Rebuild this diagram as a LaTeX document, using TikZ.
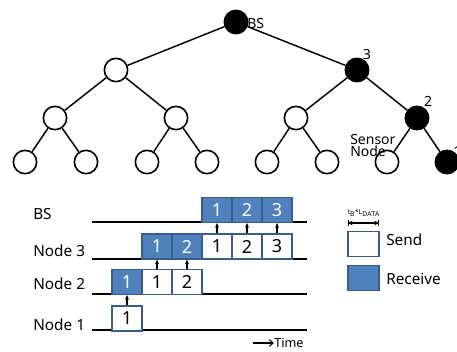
\documentclass[tikz,border=0pt]{standalone}
\usepackage{fontspec}
\setmainfont{Noto Sans}
\usetikzlibrary{arrows.meta}
\definecolor{boxblue}{HTML}{4F81BD}
\definecolor{boxedge}{HTML}{385D8A}
\tikzset{
  tn/.style={circle,draw=black,line width=1.2pt,minimum size=17.5pt,inner sep=0pt,fill=white},
  tf/.style={tn,fill=black},
  edge/.style={line width=1.1pt},
  tlabel/.style={font=\fontsize{10.5}{11}\selectfont,inner sep=0pt},
  rowlabel/.style={font=\fontsize{11.5}{12}\selectfont,inner sep=0pt,anchor=west},
  slot/.style={rectangle,draw=boxedge,line width=1.1pt,minimum width=22.5pt,minimum height=18.5pt,inner sep=0pt,font=\fontsize{13.5}{14}\selectfont},
  sendbox/.style={slot,fill=white,text=black},
  recvbox/.style={slot,fill=boxblue,text=white},
  tline/.style={line width=0.8pt},
  up/.style={line width=0.8pt,-{Stealth[length=3.5pt,width=3pt]}}
}
\begin{document}
\begin{tikzpicture}[x=0.75pt,y=-0.75pt]
\useasboundingbox (0,0) rectangle (457,351);
\clip (0,0) rectangle (457,351);
% tree
\node[tf] (bs) at (236,22) {};
\node[tn] (a) at (116,70) {};
\node[tf] (b) at (357,70) {};
\node[tn] (a1) at (55,118) {};
\node[tn] (a2) at (176,118) {};
\node[tn] (b1) at (296,118) {};
\node[tf] (b2) at (417,118) {};
\node[tn] (l1) at (25,162) {};
\node[tn] (l2) at (86,162) {};
\node[tn] (l3) at (147,162) {};
\node[tn] (l4) at (207,162) {};
\node[tn] (l5) at (267,162) {};
\node[tn] (l6) at (327,162) {};
\node[tn] (l7) at (387,162) {};
\node[tf] (l8) at (447,162) {};
\foreach \p/\c in {bs/a,bs/b,a/a1,a/a2,b/b1,b/b2,a1/l1,a1/l2,a2/l3,a2/l4,b1/l5,b1/l6,b2/l7,b2/l8}
  \draw[edge] (\p) -- (\c);
\node[tlabel,anchor=west] (bslab) at (247,23) {BS};
\node[tlabel] (lab3) at (367,54) {3};
\node[tlabel] (lab2) at (428,101) {2};
\node[tlabel,anchor=west] (lab1) at (453,151) {1};
\node[tlabel,anchor=west,align=left] (sensor) at (350,145) {Sensor\\[-2pt]Node};
% timing lines
\foreach \n/\y in {lbs/222,ln3/259,ln2/294,ln1/330}{
  \coordinate (\n s) at (92,\y);
  \coordinate (\n e) at (307,\y);
  \draw[tline] (\n s) -- (\n e);
}
\node[rowlabel] (rbs) at (33,214) {BS};
\node[rowlabel] (rn3) at (33,251) {Node 3};
\node[rowlabel] (rn2) at (33,284) {Node 2};
\node[rowlabel] (rn1) at (33,325) {Node 1};
% boxes
\node[recvbox] (bs1) at (217,210) {1};
\node[recvbox] (bs2) at (247,210) {2};
\node[recvbox] (bs3) at (277,210) {3};
\node[recvbox] (n3a) at (157,246.5) {1};
\node[recvbox] (n3b) at (187,246.5) {2};
\node[sendbox] (n3c) at (217,246.5) {1};
\node[sendbox] (n3d) at (247,246.5) {2};
\node[sendbox] (n3e) at (277,246.5) {3};
\node[recvbox] (n2a) at (127,282) {1};
\node[sendbox] (n2b) at (157,282) {1};
\node[sendbox] (n2c) at (187,282) {2};
\node[sendbox] (n1a) at (127,318.5) {1};
% arrows
\draw[up] (n1a.north) -- (n2a.south);
\draw[up] (n2b.north) -- (n3a.south);
\draw[up] (n2c.north) -- (n3b.south);
\draw[up] (n3c.north) -- (bs1.south);
\draw[up] (n3d.north) -- (bs2.south);
\draw[up] (n3e.north) -- (bs3.south);
% time arrow
\node[font=\fontsize{9.5}{10}\selectfont,inner sep=0pt,anchor=west] (time) at (274,343) {Time};
\coordinate (tstart) at (253,343);
\draw[line width=0.8pt,-{Straight Barb[length=3pt,width=5pt]}] (tstart) -- (time.west);
% legend
\node[font=\fontsize{5}{6}\selectfont\bfseries,inner sep=0pt] (dimlab) at (364,213) {t$_{\mathbf{B}}$*L$_{\mathbf{DATA}}$};
\coordinate (dl) at (348,223);
\coordinate (dr) at (379,223);
\draw[line width=0.8pt,{Bar[width=5pt]}-{Bar[width=5pt]}] (dl) -- (dr);
\draw[line width=0.8pt,{Stealth[length=3.5pt,width=3.5pt]}-{Stealth[length=3.5pt,width=3.5pt]}] (dl) -- (dr);
\node[sendbox,minimum width=23pt] (lsend) at (363.5,244) {};
\node[recvbox,minimum width=23pt] (lrecv) at (363.5,278) {};
\node[rowlabel] (sendt) at (386,240) {Send};
\node[rowlabel] (recvt) at (386,279) {Receive};
\end{tikzpicture}
\end{document}
